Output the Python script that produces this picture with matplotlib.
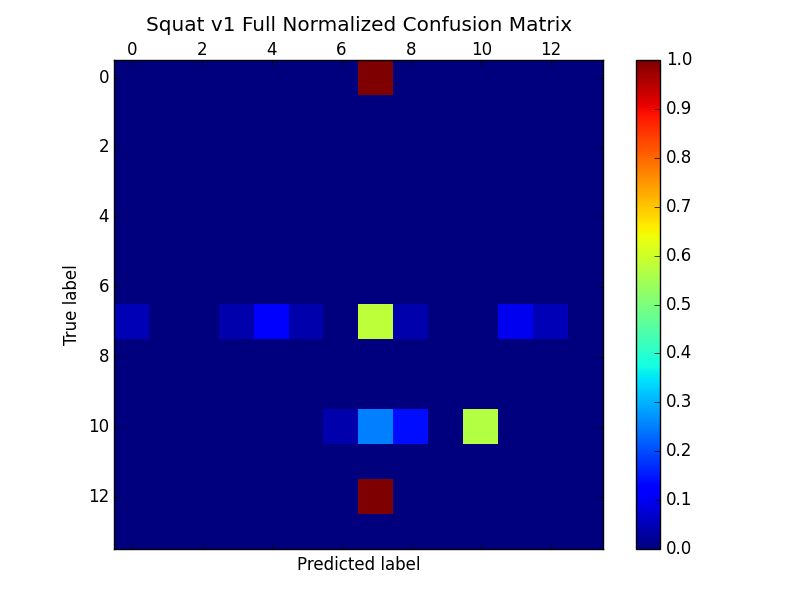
import numpy as np
import matplotlib
matplotlib.use("Agg")
import matplotlib.pyplot as plt

plt.style.use("classic")

# ----- data -----
n_classes = 14
row_labels = list(range(n_classes))
# nonzero entries: (true row, predicted col, value)
rows = [0, 7, 7, 7, 7, 7, 7, 7, 7, 10, 10, 10, 10, 12]
cols = [7, 0, 3, 4, 5, 7, 8, 11, 12, 6, 7, 8, 10, 7]
vals = [1.0, 0.05, 0.04, 0.11, 0.04, 0.58, 0.04, 0.10, 0.05,
        0.04, 0.25, 0.14, 0.57, 1.0]

cm = np.zeros((n_classes, n_classes))
cm[rows, cols] = vals

fig = plt.figure(figsize=(8.12, 6.12), dpi=100, facecolor="white")
ax = fig.add_axes([0.1404, 0.1029, 0.6034, 0.7990])
cax = fig.add_axes([0.7833, 0.1029, 0.0296, 0.7990])

im = ax.matshow(cm, cmap="jet", vmin=0.0, vmax=1.0, interpolation="nearest")
ax.set_title("Squat v1 Full Normalized Confusion Matrix", y=1.045)
ax.set_xlabel("Predicted label")
ax.set_ylabel("True label")
ax.set_xticks(row_labels[::2])
ax.set_yticks(row_labels[::2])
ax.tick_params(axis="x", pad=1)

cb = fig.colorbar(im, cax=cax)
cb.set_ticks(np.arange(0, 1.01, 0.1))

fig.savefig("out.png", dpi=100, facecolor="white")
